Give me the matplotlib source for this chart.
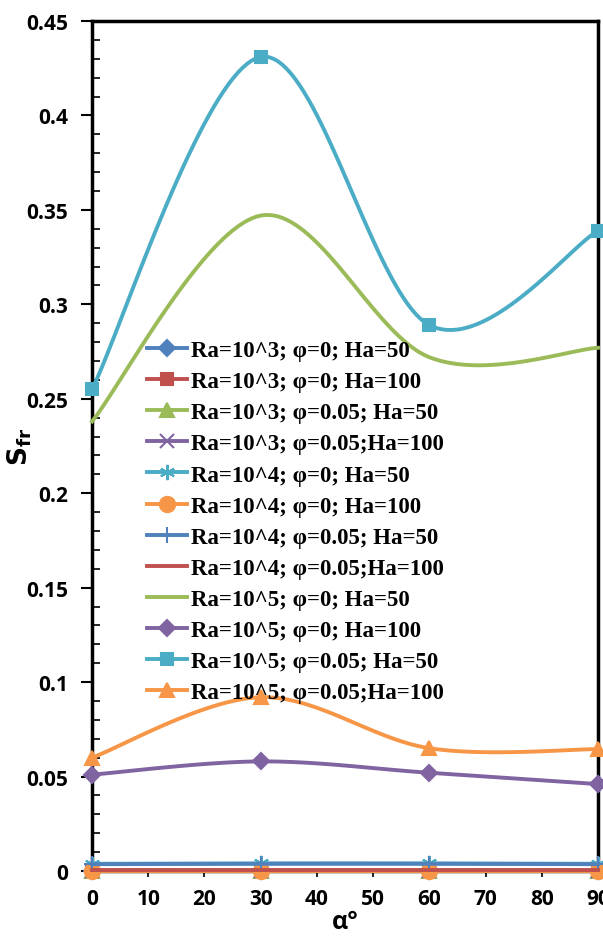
import numpy as np
import matplotlib
matplotlib.use("Agg")
import matplotlib.pyplot as plt
from matplotlib.lines import Line2D

# angle (degrees)
alpha = [0, 30, 60, 90]

# S_fr values per case
ra3_p0_ha50 = [0.0002, 0.0002, 0.0002, 0.0002]
ra3_p0_ha100 = [0.0001, 0.0001, 0.0001, 0.0001]
ra3_p05_ha50 = [0.0001, 0.0001, 0.0001, 0.0001]
ra3_p05_ha100 = [0.0001, 0.0001, 0.0001, 0.0001]
ra4_p0_ha50 = [0.0038, 0.0040, 0.0040, 0.0038]
ra4_p0_ha100 = [0.0, 0.0, 0.0, 0.0]
ra4_p05_ha50 = [0.0036, 0.0038, 0.0038, 0.0036]
ra4_p05_ha100 = [0.0003, 0.0003, 0.0003, 0.0003]
ra5_p0_ha50 = [0.238, 0.347, 0.272, 0.277]
ra5_p0_ha100 = [0.051, 0.058, 0.052, 0.046]
ra5_p05_ha50 = [0.255, 0.431, 0.289, 0.339]
ra5_p05_ha100 = [0.060, 0.092, 0.065, 0.0645]

labels = [
    "Ra=10^3; \u03c6=0; Ha=50",
    "Ra=10^3; \u03c6=0; Ha=100",
    "Ra=10^3; \u03c6=0.05; Ha=50",
    "Ra=10^3; \u03c6=0.05;Ha=100",
    "Ra=10^4; \u03c6=0; Ha=50",
    "Ra=10^4; \u03c6=0; Ha=100",
    "Ra=10^4; \u03c6=0.05; Ha=50",
    "Ra=10^4; \u03c6=0.05;Ha=100",
    "Ra=10^5; \u03c6=0; Ha=50",
    "Ra=10^5; \u03c6=0; Ha=100",
    "Ra=10^5; \u03c6=0.05; Ha=50",
    "Ra=10^5; \u03c6=0.05;Ha=100",
]
series = [ra3_p0_ha50, ra3_p0_ha100, ra3_p05_ha50, ra3_p05_ha100,
          ra4_p0_ha50, ra4_p0_ha100, ra4_p05_ha50, ra4_p05_ha100,
          ra5_p0_ha50, ra5_p0_ha100, ra5_p05_ha50, ra5_p05_ha100]
colors = ["#4F81BD", "#C0504D", "#9BBB59", "#8064A2", "#4BACC6", "#F79646",
          "#4F81BD", "#C0504D", "#9BBB59", "#8064A2", "#4BACC6", "#F79646"]
markers = ["D", "s", "^", "x", (6, 2, 0), "o", "+", None, None, "D", "s", "^"]
msizes = [8, 9, 10, 10, 11, 11, 12, 0, 0, 8, 9, 10]


def excel_smooth(x, y, n=40):
    # bezier smoothing like excel's "smoothed line"
    x = np.asarray(x, float)
    y = np.asarray(y, float)
    px = np.concatenate([[x[0]], x, [x[-1]]])
    py = np.concatenate([[y[0]], y, [y[-1]]])
    xs, ys = [], []
    t = np.linspace(0, 1, n)
    for i in range(1, len(px) - 2):
        p0 = np.array([px[i], py[i]])
        p3 = np.array([px[i + 1], py[i + 1]])
        p1 = p0 + (np.array([px[i + 1], py[i + 1]]) - np.array([px[i - 1], py[i - 1]])) / 6
        p2 = p3 - (np.array([px[i + 2], py[i + 2]]) - np.array([px[i], py[i]])) / 6
        b = ((1 - t) ** 3)[:, None] * p0 + (3 * (1 - t) ** 2 * t)[:, None] * p1 \
            + (3 * (1 - t) * t ** 2)[:, None] * p2 + (t ** 3)[:, None] * p3
        xs.extend(b[:, 0])
        ys.extend(b[:, 1])
    return xs, ys


fig = plt.figure(figsize=(6.03, 9.37), dpi=100)
ax = fig.add_axes([0.1526, 0.0694, 0.8391, 0.9071])

handles = []
for i, (vals, lab) in enumerate(zip(series, labels)):
    xs, ys = excel_smooth(alpha, vals)
    ax.plot(xs, ys, color=colors[i], lw=2.8, zorder=2 + i, clip_on=False)
    if markers[i] is not None:
        ax.plot(alpha, vals, linestyle="none", marker=markers[i], ms=msizes[i],
                color=colors[i], mec=colors[i], mew=1.5, zorder=2 + i, clip_on=False)
    handles.append(Line2D([0], [0], color=colors[i], lw=2.8, marker=markers[i],
                          ms=msizes[i], mew=1.5))

ax.set_xlim(0, 90)
ax.set_ylim(0, 0.45)
ax.set_xticks(range(0, 91, 10))
ax.set_yticks(np.arange(0, 0.451, 0.05))
ax.set_yticklabels(["0", "0.05", "0.1", "0.15", "0.2", "0.25", "0.3", "0.35", "0.4", "0.45"])
ax.set_yticks(np.arange(0, 0.451, 0.01), minor=True)
ax.tick_params(axis="y", which="major", direction="out", length=8, width=1.5, pad=9)
ax.tick_params(axis="y", which="minor", direction="in", length=6, width=1.2)
ax.tick_params(axis="x", which="major", direction="out", length=4, width=1.2, pad=8)
for lab in ax.get_xticklabels() + ax.get_yticklabels():
    lab.set_fontfamily("Open Sans")
    lab.set_fontweight("bold")
    lab.set_fontsize(15)
for s in ax.spines.values():
    s.set_linewidth(2.5)

ax.set_xlabel("\u03b1\u00b0", fontfamily="Open Sans", fontweight="bold", fontsize=18, labelpad=0)
ax.set_ylabel(r"$\mathbf{S_{fr}}$", fontsize=19)
ax.yaxis.set_label_coords(-0.115, 0.5)

leg = ax.legend(handles, labels, loc="upper left", bbox_to_anchor=(0.068, 0.649),
                frameon=False, handlelength=1.75, handletextpad=0.15, labelspacing=0.44,
                prop={"family": "Liberation Serif", "weight": "bold", "size": 16.5})
leg.set_zorder(20)

fig.savefig("out.png", dpi=100)
